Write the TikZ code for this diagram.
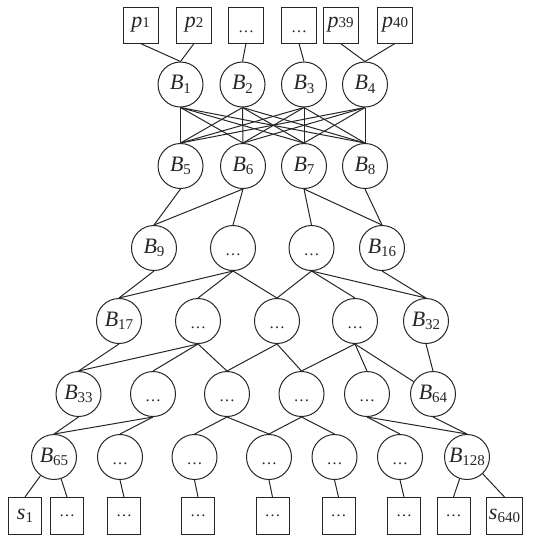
\documentclass[tikz,border=0pt]{standalone}
\usepackage{fontspec}
\setmainfont{Liberation Serif}
\newcommand{\Bn}[1]{\textit{B}\raisebox{-0.35ex}{\fontsize{7.5}{8}\selectfont #1}}
\newcommand{\Pn}[1]{\textit{p}\raisebox{0ex}{\fontsize{7.5}{8}\selectfont #1}}
\newcommand{\Sn}[1]{\textit{s}\raisebox{-0.3ex}{\fontsize{7.5}{8}\selectfont #1}}
\newcommand{\dd}{\vphantom{B}{\fontsize{8}{9}\selectfont\ldots}}
\newcommand{\db}{{\fontsize{8}{9}\selectfont\ldots}}
\begin{document}
\begin{tikzpicture}[x=0.5pt,y=-0.5pt,
  every node/.style={font=\fontsize{11}{13}\selectfont, text=black!85},
  bnode/.style={draw=black!85, line width=0.5pt, circle, minimum size=22.5pt, inner sep=-3pt},
  pbox/.style={draw=black!85, line width=0.5pt, rectangle, minimum width=17.5pt, minimum height=18pt, inner sep=1pt},
  sbox/.style={draw=black!85, line width=0.5pt, rectangle, minimum width=16.5pt, minimum height=18.5pt, inner sep=1pt},
  edge/.style={draw=black!85, line width=0.5pt}]
\useasboundingbox (0,0) rectangle (556,538);
% top boxes
\node[pbox] (p1) at (140.5,25) {\Pn{1}};
\node[pbox] (p2) at (194,25) {\Pn{2}};
\node[pbox] (p3) at (246,25) {\dd};
\node[pbox] (p4) at (299,25) {\dd};
\node[pbox] (p5) at (340.5,25) {\Pn{39}};
\node[pbox] (p6) at (395,25) {\Pn{40}};
% row 1
\node[bnode] (b1) at (180.5,84.5) {\Bn{1}};
\node[bnode] (b2) at (242.5,84.5) {\Bn{2}};
\node[bnode] (b3) at (304,84.5) {\Bn{3}};
\node[bnode] (b4) at (365,84.5) {\Bn{4}};
% row 2
\node[bnode] (b5) at (180.5,166) {\Bn{5}};
\node[bnode] (b6) at (243,166) {\Bn{6}};
\node[bnode] (b7) at (304,166) {\Bn{7}};
\node[bnode] (b8) at (365,166) {\Bn{8}};
% row 3
\node[bnode] (c1) at (154,248) {\Bn{9}};
\node[bnode] (c2) at (233,248) {\dd};
\node[bnode] (c3) at (311.5,248) {\dd};
\node[bnode] (c4) at (382,248) {\Bn{16}};
% row 4
\node[bnode] (d1) at (119,321) {\Bn{17}};
\node[bnode] (d2) at (198,321) {\dd};
\node[bnode] (d3) at (277,321) {\dd};
\node[bnode] (d4) at (355,321) {\dd};
\node[bnode] (d5) at (426,321) {\Bn{32}};
% row 5
\node[bnode] (e1) at (78.5,394) {\Bn{33}};
\node[bnode] (e2) at (153,394) {\dd};
\node[bnode] (e3) at (227,394) {\dd};
\node[bnode] (e4) at (301.5,394) {\dd};
\node[bnode] (e5) at (367,394) {\dd};
\node[bnode] (e6) at (433,394) {\Bn{64}};
% row 6
\node[bnode] (f1) at (54,457) {\Bn{65}};
\node[bnode] (f2) at (120,457) {\dd};
\node[bnode] (f3) at (194.5,457) {\dd};
\node[bnode] (f4) at (269,457) {\dd};
\node[bnode] (f5) at (334.5,457) {\dd};
\node[bnode] (f6) at (400,457) {\dd};
\node[bnode] (f7) at (467,457) {\Bn{128}};
% bottom boxes
\node[sbox] (s1) at (25,516) {\Sn{1}};
\node[sbox] (s2) at (67,516) {\db};
\node[sbox] (s3) at (124,516) {\db};
\node[sbox] (s4) at (198,516) {\db};
\node[sbox] (s5) at (272.5,516) {\db};
\node[sbox] (s6) at (338.5,516) {\db};
\node[sbox] (s7) at (404,516) {\db};
\node[sbox] (s8) at (453.5,516) {\db};
\node[sbox] (s9) at (504.5,516) {\Sn{640}};
% edges top
\draw[edge] (p1.south) -- (b1.north);
\draw[edge] (p2.south) -- (b1.north);
\draw[edge] (p3.south) -- (b2.north);
\draw[edge] (p4.south) -- (b3.north);
\draw[edge] (p5.south) -- (b4.north);
\draw[edge] (p6.south) -- (b4.north);
% full bipartite
\foreach \i in {b1,b2,b3,b4}{
  \foreach \j in {b5,b6,b7,b8}{
    \draw[edge] (\i.south) -- (\j.north);
  }
}
% row2 -> row3
\draw[edge] (b5.south) -- (c1.north);
\draw[edge] (b6.south) -- (c1.north);
\draw[edge] (b6.south) -- (c2.north);
\draw[edge] (b7.south) -- (c3.north);
\draw[edge] (b7.south) -- (c4.north);
\draw[edge] (b8.south) -- (c4.north);
% row3 -> row4
\draw[edge] (c1.south) -- (d1.north);
\draw[edge] (c2.south) -- (d1.north);
\draw[edge] (c2.south) -- (d2.north);
\draw[edge] (c2.south) -- (d3.north);
\draw[edge] (c3.south) -- (d3.north);
\draw[edge] (c3.south) -- (d4.north);
\draw[edge] (c3.south) -- (d5.north);
\draw[edge] (c4.south) -- (d5.north);
% row4 -> row5
\draw[edge] (d1.south) -- (e1.north);
\draw[edge] (d2.south) -- (e1.north);
\draw[edge] (d2.south) -- (e2.north);
\draw[edge] (d2.south) -- (e3.north);
\draw[edge] (d3.south) -- (e3.north);
\draw[edge] (d3.south) -- (e4.north);
\draw[edge] (d4.south) -- (e4.north);
\draw[edge] (d4.south) -- (e5.north);
\draw[edge] (d4.south) -- (e6);
\draw[edge] (d5.south) -- (e6.north);
% row5 -> row6
\draw[edge] (e1.south) -- (f1.north);
\draw[edge] (e2.south) -- (f1.north);
\draw[edge] (e2.south) -- (f2.north);
\draw[edge] (e3.south) -- (f3.north);
\draw[edge] (e3.south) -- (f4.north);
\draw[edge] (e4.south) -- (f4.north);
\draw[edge] (e4.south) -- (f5.north);
\draw[edge] (e5.south) -- (f6.north);
\draw[edge] (e5.south) -- (f7.north);
\draw[edge] (e6.south) -- (f7.north);
% row6 -> bottom
\draw[edge] (f1) -- (s1.north);
\draw[edge] (f1) -- (s2.north);
\draw[edge] (f2.south) -- (s3.north);
\draw[edge] (f3.south) -- (s4.north);
\draw[edge] (f4.south) -- (s5.north);
\draw[edge] (f5.south) -- (s6.north);
\draw[edge] (f6.south) -- (s7.north);
\draw[edge] (f7) -- (s8.north);
\draw[edge] (f7) -- (s9.north);
\end{tikzpicture}
\end{document}
